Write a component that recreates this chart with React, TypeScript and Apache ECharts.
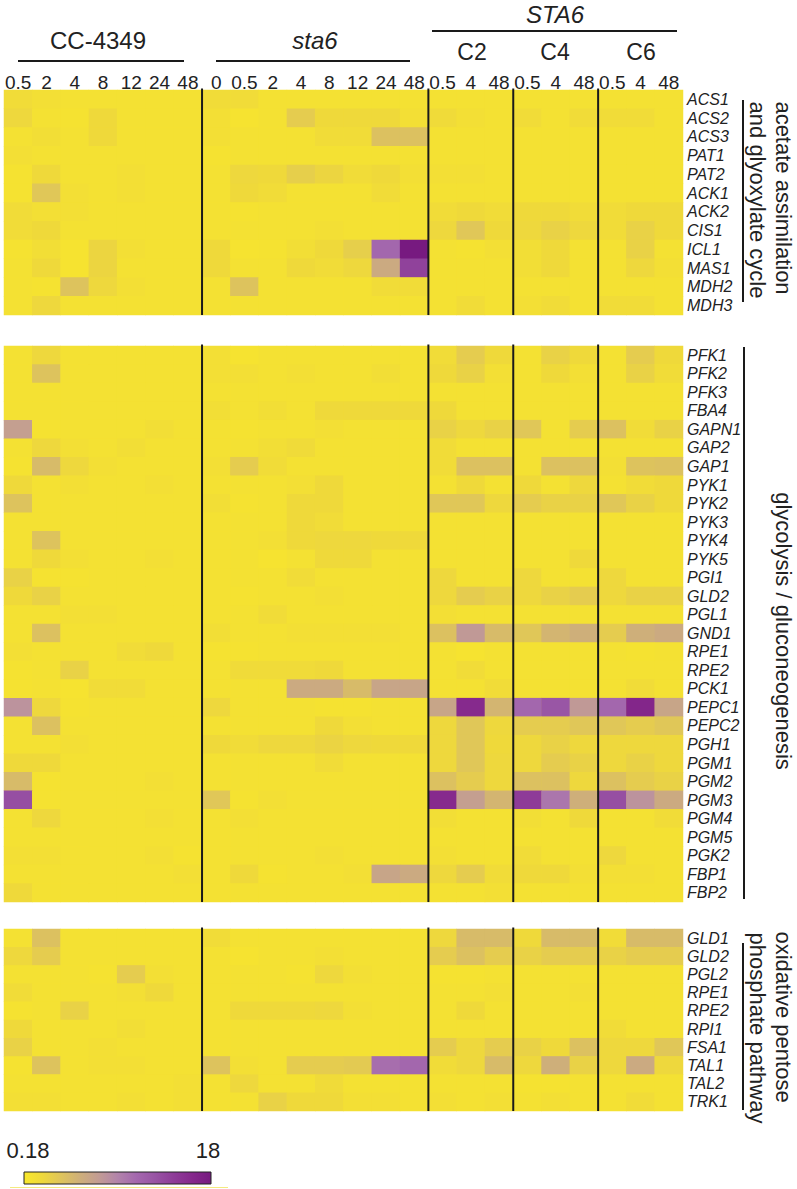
import React, { useEffect, useRef } from 'react';
import * as echarts from 'echarts';

// ---------- data ----------
const strainGroups = ['CC-4349', 'sta6', 'C2', 'C4', 'C6'];
const timeLabels = ['0.5', '2', '4', '8', '12', '24', '48', '0', '0.5', '2', '4', '8', '12', '24', '48', '0.5', '4', '48', '0.5', '4', '48', '0.5', '4', '48'];
const columnGroup = [0, 0, 0, 0, 0, 0, 0, 1, 1, 1, 1, 1, 1, 1, 1, 2, 2, 2, 3, 3, 3, 4, 4, 4];
const columns = timeLabels.map((t, i) => strainGroups[columnGroup[i]] + ' ' + t + 'h');

const acetateGenes = ['ACS1', 'ACS2', 'ACS3', 'PAT1', 'PAT2', 'ACK1', 'ACK2', 'CIS1', 'ICL1', 'MAS1', 'MDH2', 'MDH3'];
const acetateValues = [
  [1.5, 1.2, 1, 1, 1, 1, 1, 1.5, 1.5, 1, 1, 1, 1, 1, 1, 1, 1, 1, 1, 1, 1, 1, 1, 1],
  [2, 1, 0.8, 1.8, 1, 1, 1, 1.2, 0.7, 1, 3, 1.8, 1.8, 1.8, 1.2, 1.6, 1.2, 1, 1.5, 1, 1.5, 1.5, 1.5, 1],
  [1, 1.3, 1, 1.8, 1, 1, 1, 1.2, 1, 1, 1, 1.5, 1.5, 4, 4, 1, 1, 1, 1, 1, 1, 1, 1, 1],
  [1.2, 1, 1, 1, 1, 1, 1, 0.8, 1, 1, 1, 1, 1, 1, 1, 1, 1, 1, 1, 1, 1, 1, 1, 1],
  [0.8, 1.8, 1, 1, 1.2, 1, 1, 1, 2, 1.8, 2.8, 2.2, 1.5, 1.8, 1.2, 1.2, 1.2, 1, 1, 1, 1, 1, 1, 1],
  [0.8, 3.5, 1.2, 1, 1.2, 1, 1, 1, 1.8, 1.5, 1, 1, 1, 1.5, 1, 1, 1, 1, 1, 1, 1, 1, 1, 1],
  [1.5, 1.2, 1.2, 1, 1, 1, 1, 1, 0.8, 1, 1, 1, 1, 1, 1, 1.5, 1.8, 1.5, 1.8, 1.8, 1.5, 1.5, 1.8, 1.8],
  [1.5, 1.8, 1, 1, 1, 1, 1, 1, 1, 1, 1, 1.2, 1, 1, 1, 2, 3.5, 1.8, 2, 2.5, 2, 1.5, 2.5, 1.8],
  [0.8, 1.3, 0.7, 2.2, 1.2, 1, 1, 1.8, 0.7, 0.8, 1.3, 1.8, 2.8, 11, 18, 1, 0.8, 1.2, 1.3, 1.8, 1, 1, 2.5, 1],
  [1, 1.8, 0.7, 2.2, 1, 1, 1, 1.8, 1, 1, 1.8, 1.5, 2, 6, 14, 1, 1, 1, 1.3, 1.8, 1, 1, 2, 1.2],
  [1, 0.8, 3.8, 2, 1.2, 1, 1, 1, 3.8, 1, 1, 1, 1, 1.5, 1.5, 1, 1, 1, 1, 1, 1, 1, 1, 1],
  [1, 2, 1, 1, 1, 1, 1, 1, 1, 1, 1, 1, 1, 1, 1, 1, 1.5, 1, 1.2, 1.5, 1, 1.5, 1.5, 1],
];

const glycolysisGenes = ['PFK1', 'PFK2', 'PFK3', 'FBA4', 'GAPN1', 'GAP2', 'GAP1', 'PYK1', 'PYK2', 'PYK3', 'PYK4', 'PYK5', 'PGI1', 'GLD2', 'PGL1', 'GND1', 'RPE1', 'RPE2', 'PCK1', 'PEPC1', 'PEPC2', 'PGH1', 'PGM1', 'PGM2', 'PGM3', 'PGM4', 'PGM5', 'PGK2', 'FBP1', 'FBP2'];
const glycolysisValues = [
  [1, 2, 1, 1, 1, 1, 1, 1.2, 0.7, 1, 1, 1, 1, 1, 1, 1.5, 3, 1.8, 1, 2.5, 1.8, 1, 3, 1.8],
  [1, 3.8, 1, 1, 1, 1, 1, 1.2, 1.2, 1, 1.2, 1, 1, 1.3, 1, 1.8, 2.5, 1.2, 1, 1.8, 1.2, 1, 2.5, 1.5],
  [1, 1, 1, 1, 1, 1, 1, 1, 1, 1, 1, 1, 1, 1, 1, 1, 1, 1, 1, 1, 1, 1, 1, 1],
  [1, 1, 1, 1, 1, 1, 1, 1.3, 1, 1.3, 1, 1.8, 1.8, 1.8, 1.8, 1.8, 1, 1, 1, 1, 1, 1, 1, 1],
  [7, 0.8, 1, 1, 1, 1.3, 1, 1, 0.8, 1, 1, 1.2, 1, 1, 1, 2.5, 2, 2.5, 3.5, 1, 3, 4, 1.5, 2.5],
  [1, 2, 1.2, 1, 1.3, 1, 1, 1, 1, 1.3, 1.6, 1, 1, 1, 1, 1.5, 1, 1, 1, 1, 1, 1, 1, 1],
  [0.8, 4.5, 2, 1.2, 1, 1, 1, 1.2, 3, 1.5, 1, 1, 1, 1, 1, 1.5, 4, 4, 1, 4, 4, 1.2, 3.8, 4],
  [1.8, 1, 1.2, 1, 1, 1.2, 1, 1, 1, 1, 1.2, 1.8, 1, 1, 1, 1, 1.8, 1, 1.8, 1, 2, 1, 1.5, 1.8],
  [3.8, 1, 1, 1, 1, 1, 1, 1.3, 0.8, 1, 1.8, 1.8, 1, 1, 1, 3.5, 3.5, 2, 3, 2.5, 2.5, 3.5, 2.5, 1.8],
  [1, 1, 1, 1, 1, 1, 1, 1, 1, 1, 1.8, 1.5, 1, 1, 1, 1, 1, 1, 1, 1, 1, 1, 1, 1],
  [1, 3.8, 1, 1, 1, 1, 1, 1, 1, 1.2, 1.8, 2, 2, 1.8, 1.8, 1, 1, 1, 1, 1, 1, 1, 1, 1],
  [1, 1.8, 1.2, 1, 1, 1.2, 1, 1, 1, 0.7, 1, 1.8, 1.8, 1, 1, 1, 1, 1, 1, 1, 1.8, 1, 1, 1],
  [2.5, 0.8, 0.8, 1, 1, 1, 1, 1, 1, 1, 1.5, 1, 1, 1, 1, 2, 1, 1, 2, 1, 1, 2, 1, 1],
  [1.8, 2.5, 1, 1, 1, 1, 1, 1, 0.8, 1, 1, 1.2, 1, 1, 1, 2, 3, 2.5, 2, 2.5, 3, 2, 2.5, 2.5],
  [1, 1, 1.2, 1.2, 1, 1, 1, 1, 1, 1.5, 1, 1, 1, 1, 1, 1.2, 1, 1, 1, 1, 1, 1, 1, 1],
  [1, 4, 1, 1, 1, 1, 1, 1.3, 1, 1, 1.2, 1.2, 1.2, 1.2, 1, 4, 7.5, 4.5, 3.5, 5, 5.5, 3, 5.5, 6],
  [1.2, 1, 1, 1, 1.5, 1.8, 1, 0.8, 0.8, 1, 1, 1, 1, 1, 1, 1, 0.7, 1, 1, 1, 1, 1, 0.8, 1],
  [0.8, 1, 2.5, 1, 1, 1, 1, 1, 1.6, 1.6, 1.6, 1.8, 1, 1, 1, 1, 1.5, 1, 1, 1, 1, 1, 1, 1],
  [0.8, 1, 0.7, 1.5, 1.5, 1, 1, 1, 1, 1, 6, 6, 4.5, 6.5, 6.5, 1, 1, 1.5, 1, 1, 1, 1, 1.5, 1],
  [8, 2, 0.8, 1, 1, 1, 1, 2, 1, 1, 1, 0.8, 0.8, 1, 1, 6.5, 16, 5, 11, 12.5, 7.5, 11, 16.5, 6.5],
  [1, 4, 1, 1, 1, 1, 1, 1, 1, 1, 1, 1.8, 1.2, 1, 1, 2, 3.5, 2, 3, 3, 3.5, 3.5, 3, 3.5],
  [1, 1, 1.2, 1, 1, 1, 1, 1.8, 1.5, 2, 2, 2.3, 2, 1.8, 1.8, 2, 3.5, 1.8, 2, 2.5, 2, 2, 2, 2],
  [1.8, 1.8, 1, 1, 1, 1, 1, 1, 1, 1, 1, 1.5, 1, 1, 1, 2, 3.5, 2, 2, 3, 2.5, 2, 2.5, 2],
  [4.5, 0.8, 1, 1, 1, 1.2, 1, 1, 1, 1, 1, 1, 1, 1, 1, 4, 3, 2, 4, 4, 2, 4, 3, 2.5],
  [13, 0.8, 1, 1, 1, 1, 1, 3.5, 0.8, 1.2, 1, 1, 1, 1, 1, 16, 7, 5, 14.5, 10, 5.5, 13, 8, 6],
  [1, 2, 1, 1, 1, 1.2, 1, 1, 1.2, 1, 1, 1, 1, 1, 1, 1.3, 1, 1, 1.3, 1, 1.8, 1, 1, 1.5],
  [1, 1, 1, 1, 1, 1, 1, 1, 1, 1, 1, 1, 1, 1, 1, 1, 1, 1, 1, 1, 1, 1, 1, 1],
  [1.2, 1.2, 1, 1, 1, 1.2, 0.8, 1, 1, 1, 1, 1.2, 1, 1, 1, 1.2, 1, 1, 1.5, 1, 1, 2, 1, 1],
  [1, 1, 1, 1, 1, 1, 1.2, 1, 1.8, 0.8, 1, 1, 1.2, 6.5, 6, 2, 3, 1.5, 1.8, 1.8, 1.2, 1.2, 1.2, 1],
  [1.8, 1, 1, 1, 1, 1, 1, 1, 1, 1, 1, 1, 1, 1, 1, 1, 1, 1.2, 1, 1, 1, 1, 1, 1],
];

const pentoseGenes = ['GLD1', 'GLD2', 'PGL2', 'RPE1', 'RPE2', 'RPI1', 'FSA1', 'TAL1', 'TAL2', 'TRK1'];
const pentoseValues = [
  [1, 4, 1, 1, 1, 1, 1, 1.5, 1, 1, 1, 1, 1, 1, 1, 2, 4.5, 4.5, 1.8, 4.5, 4.5, 1.5, 4.5, 4.5],
  [2, 3, 1, 1, 1, 1, 1, 1, 0.7, 1, 1, 1.2, 1, 1, 1, 3, 4, 3, 2.5, 3, 3, 2.5, 3, 3],
  [1, 1, 1, 0.8, 3, 1.2, 1, 1, 1, 1, 0.8, 2, 1.2, 1, 1, 0.8, 0.8, 1, 1, 1, 1, 1, 1, 1],
  [1.5, 1, 1, 1, 1.2, 1.8, 1, 1, 1, 1, 1, 1, 1, 1, 1, 1, 1, 1.2, 1, 1, 1.2, 1, 1, 1],
  [0.8, 1, 2.5, 1, 1, 1, 1, 1, 1.8, 1.8, 1.8, 2, 1.2, 1, 1, 1, 1.8, 1, 1, 1, 1, 1, 1, 1],
  [1.8, 1, 1, 1, 1.3, 1, 1, 1, 1, 1, 1, 1, 1, 1, 1, 1, 1, 1, 1, 1, 1, 1.5, 1, 1],
  [2.5, 1, 1, 1.2, 1, 1, 1, 1, 1, 1, 1, 1, 1, 1, 1, 3, 2, 3, 2.5, 1.8, 4, 2, 2, 3.5],
  [0.8, 3.8, 1, 1.2, 1.2, 1, 1, 3.8, 1.2, 1, 3, 3, 3.2, 10.5, 11, 1.5, 2, 4.5, 2, 5.5, 2.5, 2, 6, 2],
  [1, 1, 1, 1, 1, 1, 1.2, 1, 2, 1, 1, 1.6, 1, 1, 1, 1, 1, 1, 0.8, 0.8, 1, 1, 1, 1],
  [1.2, 1.2, 1, 1, 1.2, 1, 1.2, 1, 1, 2.5, 1.8, 1.8, 1.2, 1.2, 1, 1.2, 1, 1.2, 1, 1.2, 1, 1, 1.5, 1],
];

const scaleMin = 0.18;
const scaleMax = 18;
const scaleColors = ['#f9e82b', '#eed83c', '#dec45c', '#ceaf7a', '#c29c94', '#b284aa', '#a468ae', '#9854a4', '#8e3c98', '#85288c', '#771a80'];

// ---------- layout ----------
const FONT = '"Liberation Sans", Arial, Helvetica, sans-serif';
const GRID_LEFT = 4;
const GRID_W = 679;
const gridTops = [90, 346, 929];
const gridHeights = [225, 556, 182];
const separatorCols = [7, 15, 18, 21];

const App: React.FC = () => {
  const ref = useRef<HTMLDivElement>(null);

  useEffect(() => {
    if (!ref.current) return;
    const chart = echarts.init(ref.current, undefined, { renderer: 'svg' });

    const groups = [
      { genes: acetateGenes, values: acetateValues },
      { genes: glycolysisGenes, values: glycolysisValues },
      { genes: pentoseGenes, values: pentoseValues },
    ];

    const grids = groups.map((_, g) => ({
      left: GRID_LEFT,
      top: gridTops[g],
      width: GRID_W,
      height: gridHeights[g],
      show: true,
      backgroundColor: '#f5e232',
      borderWidth: 0,
    }));

    const xAxes = groups.map((_, g) => ({
      type: 'category',
      gridIndex: g,
      data: columns,
      position: 'top',
      axisLine: { show: false },
      axisTick: { show: false },
      splitLine: { show: false },
      axisLabel: g === 0
        ? {
            show: true,
            interval: 0,
            formatter: (_v: string, i: number) => timeLabels[i],
            fontSize: 19,
            fontFamily: FONT,
            color: '#222',
            margin: -2,
          }
        : { show: false },
    }));

    const yAxes = groups.map((grp, g) => ({
      type: 'category',
      gridIndex: g,
      data: grp.genes,
      inverse: true,
      position: 'right',
      axisLine: { show: false },
      axisTick: { show: false },
      splitLine: { show: false },
      axisLabel: {
        interval: 0,
        fontSize: 16,
        fontStyle: 'italic',
        fontFamily: FONT,
        color: '#222',
        margin: 4,
      },
    }));

    const series = groups.map((grp, g) => {
      const data: number[][] = [];
      grp.values.forEach((row, r) => row.forEach((v, c) => data.push([c, r, v])));
      return {
        type: 'heatmap',
        xAxisIndex: g,
        yAxisIndex: g,
        data,
        itemStyle: { borderWidth: 0 },
        emphasis: { disabled: true },
      };
    });

    const colX = (c: number) => GRID_LEFT + (GRID_W * c) / 24;
    const graphics: any[] = [];

    // separator lines
    groups.forEach((_, g) => {
      separatorCols.forEach((c) => {
        graphics.push({
          type: 'line',
          shape: { x1: colX(c), y1: gridTops[g] - 1.5, x2: colX(c), y2: gridTops[g] + gridHeights[g] },
          style: { stroke: '#1a1a1a', lineWidth: 2 },
          z: 100,
        });
      });
    });

    const txt = (text: string, x: number, y: number, size: number, italic = false, rotation = 0) => ({
      type: 'text',
      x,
      y,
      rotation,
      style: {
        text,
        fontSize: size,
        fontFamily: FONT,
        fontStyle: italic ? 'italic' : 'normal',
        fill: '#222',
        textAlign: 'center',
        textVerticalAlign: 'middle',
      },
      z: 100,
    });
    const ln = (x1: number, y1: number, x2: number, y2: number, w = 2, color = '#1a1a1a') => ({
      type: 'line',
      shape: { x1, y1, x2, y2 },
      style: { stroke: color, lineWidth: w },
      z: 100,
    });

    // header
    graphics.push(txt(strainGroups[0], 98, 40, 24));
    graphics.push(ln(18, 61, 184, 61));
    graphics.push(txt(strainGroups[1], 315, 40, 24, true));
    graphics.push(ln(216, 61, 410, 61));
    graphics.push(txt('STA6', 555, 14, 24, true));
    graphics.push(ln(432, 31, 677, 31));
    graphics.push(txt(strainGroups[2], 472, 52, 23));
    graphics.push(txt(strainGroups[3], 555, 52, 23));
    graphics.push(txt(strainGroups[4], 641, 52, 23));

    // right group labels
    const rot = -Math.PI / 2;
    graphics.push(ln(743, 100, 743, 302));
    graphics.push(txt('acetate assimilation', 783, 198, 22, false, rot));
    graphics.push(txt('and glyoxylate cycle', 757, 200, 22, false, rot));
    graphics.push(ln(744, 347, 744, 899));
    graphics.push(txt('glycolysis / gluconeogenesis', 783, 631, 22, false, rot));
    graphics.push(ln(743, 943, 743, 1110));
    graphics.push(txt('oxidative pentose', 783, 1017, 22, false, rot));
    graphics.push(txt('phosphate pathway', 757, 1028, 22, false, rot));

    // colour bar
    const stops = scaleColors.map((color, i) => ({ offset: i / (scaleColors.length - 1), color }));
    graphics.push({
      type: 'rect',
      shape: { x: 24, y: 1172, width: 187, height: 12 },
      style: {
        fill: new echarts.graphic.LinearGradient(0, 0, 1, 0, stops),
        stroke: '#222',
        lineWidth: 1,
      },
      z: 100,
    });
    graphics.push(txt(String(scaleMin), 28, 1150, 22));
    graphics.push(txt(String(scaleMax), 208, 1150, 22));
    graphics.push(ln(10, 1187.5, 228, 1187.5, 1, '#f4ea80'));

    chart.setOption({
      animation: false,
      backgroundColor: '#ffffff',
      grid: grids,
      xAxis: xAxes,
      yAxis: yAxes,
      visualMap: {
        type: 'continuous',
        show: false,
        min: scaleMin,
        max: scaleMax,
        seriesIndex: [0, 1, 2],
        inRange: { color: scaleColors },
      },
      series,
      graphic: graphics,
    });

    return () => chart.dispose();
  }, []);

  return (
    <div
      ref={ref}
      style={{ position: 'absolute', left: 0, top: 0, width: 797, height: 1189 }}
    />
  );
};

export default App;
